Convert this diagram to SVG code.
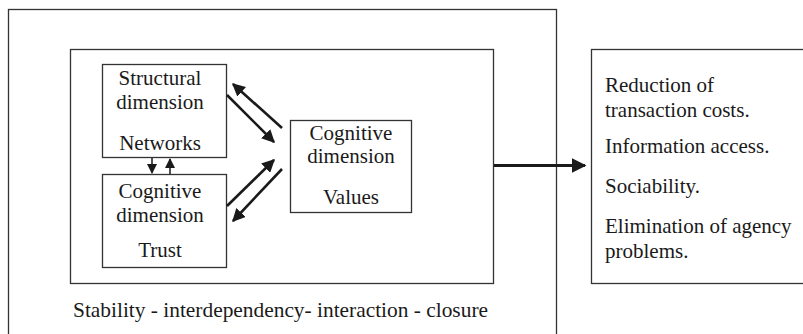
<svg xmlns="http://www.w3.org/2000/svg" width="803" height="334" viewBox="0 0 803 334">
<style>
.box{fill:#fff;stroke:#333;stroke-width:1.3}
.m{text-anchor:middle}
.c{stroke:#1a1a1a;fill:none}
</style>
<defs>
<marker id="ah" viewBox="0 0 10 10" refX="9" refY="5" markerWidth="5" markerHeight="5" markerUnits="strokeWidth" orient="auto">
<path d="M0,0 L10,5 L0,10 z" fill="#1a1a1a"/>
</marker>
<marker id="ahs" viewBox="0 0 10 10" refX="9" refY="5" markerWidth="7" markerHeight="7" markerUnits="strokeWidth" orient="auto">
<path d="M0,0 L10,5 L0,10 z" fill="#1a1a1a"/>
</marker>
</defs>
<g font-family="Liberation Serif, Times New Roman, serif" font-size="21" fill="#1a1a1a">
<g id="outer"><rect class="box" x="8.5" y="9.5" width="548" height="340"/>
<text x="73" y="317" textLength="415" lengthAdjust="spacingAndGlyphs">Stability -  interdependency- interaction - closure</text></g>
<g id="inner"><rect class="box" x="70.5" y="49.5" width="423" height="234"/></g>
<g id="structural"><rect class="box" x="102.5" y="64.5" width="124" height="93"/>
<text class="m" x="160" y="85">Structural</text>
<text class="m" x="160" y="109">dimension</text>
<text class="m" x="160" y="150">Networks</text></g>
<g id="trust"><rect class="box" x="102.5" y="174.5" width="124" height="93"/>
<text class="m" x="160" y="198">Cognitive</text>
<text class="m" x="160" y="222">dimension</text>
<text class="m" x="160" y="257">Trust</text></g>
<g id="values"><rect class="box" x="290.5" y="120.5" width="121" height="92"/>
<text class="m" x="351" y="140">Cognitive</text>
<text class="m" x="351" y="163">dimension</text>
<text class="m" x="351" y="204">Values</text></g>
<g id="outcomes"><rect class="box" x="591.5" y="49.5" width="230" height="234"/>
<text x="605" y="92">Reduction of</text>
<text x="605" y="117">transaction costs.</text>
<text x="605" y="153">Information access.</text>
<text x="605" y="193">Sociability.</text>
<text x="605" y="233">Elimination of agency</text>
<text x="605" y="258">problems.</text></g>
</g>
<g id="connectors">
<line class="c" stroke-width="2.6" x1="227" y1="95" x2="274" y2="142" marker-end="url(#ah)"/>
<line class="c" stroke-width="2.6" x1="282" y1="128" x2="233" y2="84" marker-end="url(#ah)"/>
<line class="c" stroke-width="2.6" x1="227" y1="206" x2="274" y2="160" marker-end="url(#ah)"/>
<line class="c" stroke-width="2.6" x1="282" y1="169" x2="233" y2="221" marker-end="url(#ah)"/>
<line class="c" stroke-width="1.5" x1="152" y1="158" x2="152" y2="173" marker-end="url(#ahs)"/>
<line class="c" stroke-width="1.5" x1="170" y1="174" x2="170" y2="159" marker-end="url(#ahs)"/>
<line class="c" stroke-width="3" x1="494" y1="165.5" x2="585" y2="165.5" marker-end="url(#ah)"/>
</g>
</svg>
